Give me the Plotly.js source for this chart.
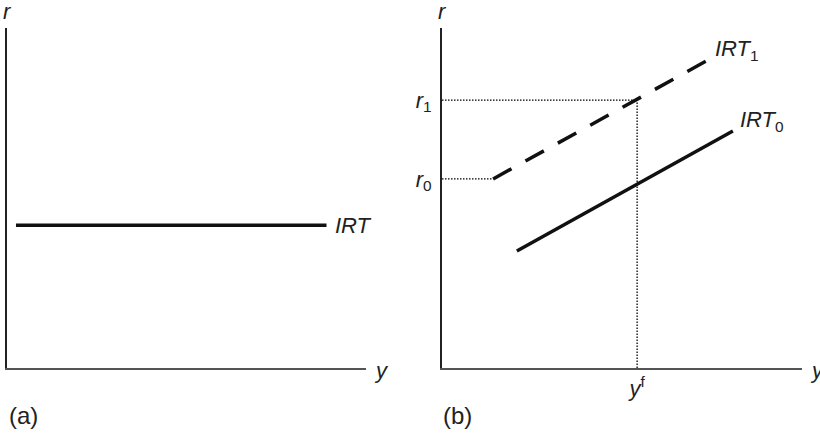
<!DOCTYPE html>
<html>
<head>
<meta charset="utf-8">
<script src="https://cdn.plot.ly/plotly-3.0.1.min.js"></script>
<style>html,body{margin:0;padding:0;background:#fff;}#chart{width:820px;height:433px;}</style>
</head>
<body>
<div id="chart"></div>
<script>
// Panel (a): horizontal interest-rate rule
const irtX = [0.25, 8.9];
const irtY = [4.2, 4.2];

// Panel (b): shifted interest-rate rule
const irt0X = [2.08, 8.08];
const irt0Y = [3.44, 6.97];
const irt1X = [1.42, 7.39];
const irt1Y = [5.56, 9.06];
const yFull = 5.42;   // y^f
const r0 = 5.56;
const r1 = 7.88;

const tickValsR = [r0, r1];
const tickTextR = ['<i>r</i><sub>0</sub>', '<i>r</i><sub>1</sub>'];
const tickValsY = [yFull];
const tickTextY = ['<i>y</i><sup>f</sup>'];

const FONT = 'Liberation Sans, Arial, sans-serif';
const TXT = '#222';

const dotStyle = {color: '#000', width: 1.3, dash: '1.5px,1.5px'};

const traces = [
  {x: irtX, y: irtY, xaxis: 'x', yaxis: 'y', mode: 'lines',
   line: {color: '#111', width: 3.5}, hoverinfo: 'skip'},
  // dotted guides in panel (b)
  {x: [0, yFull], y: [r1, r1], xaxis: 'x2', yaxis: 'y2', mode: 'lines', line: dotStyle, hoverinfo: 'skip'},
  {x: [yFull, yFull], y: [0, r1], xaxis: 'x2', yaxis: 'y2', mode: 'lines', line: dotStyle, hoverinfo: 'skip'},
  {x: [0, irt1X[0]], y: [r0, r0], xaxis: 'x2', yaxis: 'y2', mode: 'lines', line: dotStyle, hoverinfo: 'skip'},
  {x: irt0X, y: irt0Y, xaxis: 'x2', yaxis: 'y2', mode: 'lines',
   line: {color: '#111', width: 3.5}, hoverinfo: 'skip'},
  {x: irt1X, y: irt1Y, xaxis: 'x2', yaxis: 'y2', mode: 'lines',
   line: {color: '#111', width: 3.5, dash: '21px,16px'}, hoverinfo: 'skip'}
];

const axisBase = {
  range: [0, 10], showgrid: false, zeroline: false, showline: true,
  linewidth: 2, ticks: '', fixedrange: true
};

const annFont = {family: FONT, size: 22, color: TXT};

const layout = {
  width: 820, height: 433,
  margin: {l: 0, r: 0, t: 0, b: 0},
  paper_bgcolor: '#fff', plot_bgcolor: '#fff',
  showlegend: false,
  font: {family: FONT, size: 22, color: TXT},
  xaxis: Object.assign({}, axisBase, {domain: [7/820, 366/820], anchor: 'y', linecolor: '#555', showticklabels: false}),
  yaxis: Object.assign({}, axisBase, {domain: [65/433, 405/433], anchor: 'x', linecolor: '#222', showticklabels: false}),
  xaxis2: Object.assign({}, axisBase, {domain: [442/820, 802/820], anchor: 'y2', linecolor: '#555',
    tickvals: tickValsY, ticktext: tickTextY, showticklabels: true, ticklabelstandoff: 0,
    tickfont: {family: FONT, size: 22, color: TXT}}),
  yaxis2: Object.assign({}, axisBase, {domain: [65/433, 405/433], anchor: 'x2', linecolor: '#222',
    tickvals: tickValsR, ticktext: tickTextR, showticklabels: true, ticklabelstandoff: 4,
    tickfont: {family: FONT, size: 22, color: TXT}}),
  annotations: [
    {xref: 'x', yref: 'y', x: 0, y: 10, text: '<i>r</i>', showarrow: false, xanchor: 'center', yanchor: 'bottom', font: annFont, yshift: 2},
    {xref: 'x', yref: 'y', x: 10, y: 0, text: '<i>y</i>', showarrow: false, xanchor: 'left', yanchor: 'middle', font: annFont, xshift: 6, yshift: -2},
    {xref: 'x', yref: 'y', x: irtX[1], y: irtY[1], text: '<i>IRT</i>', showarrow: false, xanchor: 'left', yanchor: 'middle', font: annFont, xshift: 6},
    {xref: 'x2', yref: 'y2', x: 0, y: 10, text: '<i>r</i>', showarrow: false, xanchor: 'center', yanchor: 'bottom', font: annFont, yshift: 2},
    {xref: 'x2', yref: 'y2', x: 10, y: 0, text: '<i>y</i>', showarrow: false, xanchor: 'left', yanchor: 'middle', font: annFont, xshift: 6, yshift: -2},
    {xref: 'x2', yref: 'y2', x: irt1X[1], y: irt1Y[1], text: '<i>IRT</i><sub>1</sub>', showarrow: false, xanchor: 'left', yanchor: 'middle', font: annFont, xshift: 5, yshift: 10},
    {xref: 'x2', yref: 'y2', x: irt0X[1], y: irt0Y[1], text: '<i>IRT</i><sub>0</sub>', showarrow: false, xanchor: 'left', yanchor: 'middle', font: annFont, xshift: 5, yshift: 10},
    {xref: 'paper', yref: 'paper', x: 7/820, y: 18/433, text: '(a)', showarrow: false, xanchor: 'left', yanchor: 'middle', font: {family: FONT, size: 24, color: TXT}},
    {xref: 'paper', yref: 'paper', x: 441/820, y: 18/433, text: '(b)', showarrow: false, xanchor: 'left', yanchor: 'middle', font: {family: FONT, size: 24, color: TXT}}
  ]
};

Plotly.newPlot('chart', traces, layout, {staticPlot: true, displayModeBar: false});
</script>
</body>
</html>
